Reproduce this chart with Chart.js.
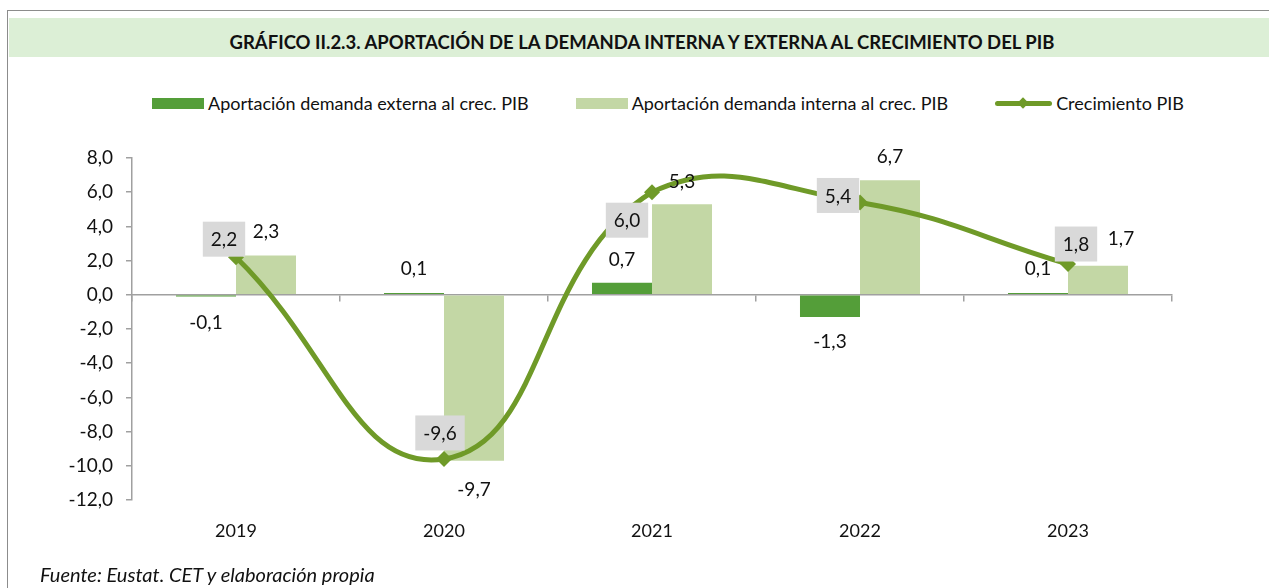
<!DOCTYPE html>
<html>
<head>
<meta charset="utf-8">
<script src="https://cdn.jsdelivr.net/npm/chart.js@4.4.1/dist/chart.umd.min.js"></script>
<style>
    body { margin: 0; background: #fff; font-family: Lato, "Open Sans", sans-serif; color: #111; }
    #page { position: relative; width: 1269px; height: 588px; overflow: hidden; }
    #frame { position: absolute; left: 7px; top: 10px; right: -5px; bottom: -5px;
        border-top: 1.5px solid #8c8c8c; border-left: 1.5px solid #8c8c8c; }
    #title { position: absolute; left: 9px; top: 18px; width: 1260px; height: 39px; background: #dcefd6;
        font-weight: bold; font-size: 18.5px; line-height: 29px; padding-top: 10px; text-align: center;
        padding-left: 6px; box-sizing: border-box; }
    #legend { position: absolute; left: 152px; top: 92px; display: flex; align-items: center; font-size: 18px; }
    .item { display: flex; align-items: center; margin-right: 47px; }
    .swatch { width: 52px; height: 11px; margin-right: 4px; }
    .lineSwatch { position: relative; width: 57px; height: 5px; border-radius: 3px; margin-right: 4px; }
    .lineSwatch span { position: absolute; left: 24px; top: -2px; width: 8px; height: 8px; transform: rotate(45deg); }
    #chart { position: absolute; left: 0; top: 0; }
    #source { position: absolute; left: 40px; top: 562px; font-style: italic; font-size: 20px; }
</style>
</head>
<body>
<div id="page">
    <div id="frame"></div>
    <div id="title">GRÁFICO II.2.3. APORTACIÓN DE LA DEMANDA INTERNA Y EXTERNA AL CRECIMIENTO DEL PIB</div>
    <div id="legend"></div>
    <canvas id="chart" width="1269" height="588"></canvas>
    <div id="source">Fuente: Eustat. CET y elaboración propia</div>
</div>
<script>
// DATA
const years = ["2019", "2020", "2021", "2022", "2023"];
const externa = [-0.1, 0.1, 0.7, -1.3, 0.1];
const interna = [2.3, -9.7, 5.3, 6.7, 1.7];
const pib = [2.2, -9.6, 6.0, 5.4, 1.8];
const yMin = -12;
const yMax = 8;
const yStep = 2;

const names = [
    "Aportación demanda externa al crec. PIB",
    "Aportación demanda interna al crec. PIB",
    "Crecimiento PIB",
];

// STYLE
const darkGreen = "#549e39";
const lightGreen = "#c3d7a5";
const lineGreen = "#6f9a28";
const axisGray = "#a0a0a0";
const textColor = "#111";
const fontFamily = "Lato, 'Open Sans', sans-serif";

// label nudges in pixels [dx, dy], relative to bar end / point
const externaNudge = [[0, 2], [0, 0], [0, 1], [0, 1], [0, 0]];
const internaNudge = [[0, 0], [0, 5], [0, 2], [0, 1], [23, -3]];
const pibNudge = [[-12, -18], [-4, -26], [-25, 28], [-22, -7], [8, -20]];

const fmt = (v) => v.toFixed(1).replace(".", ",");

// legend
const legend = document.getElementById("legend");
legend.insertAdjacentHTML("beforeend", `
    <div class="item"><div class="swatch" style="background:${darkGreen}"></div>${names[0]}</div>
    <div class="item"><div class="swatch" style="background:${lightGreen}"></div>${names[1]}</div>
    <div class="item"><div class="lineSwatch" style="background:${lineGreen}"><span style="background:${lineGreen}"></span></div>${names[2]}</div>
`);

const valueLabels = {
    id: "valueLabels",
    afterDatasetsDraw(chart) {
        const ctx = chart.ctx;
        ctx.save();
        ctx.font = `19px ${fontFamily}`;
        ctx.textAlign = "center";
        ctx.textBaseline = "middle";
        chart.data.datasets.forEach((ds, di) => {
            const meta = chart.getDatasetMeta(di);
            meta.data.forEach((el, i) => {
                const v = ds.data[i];
                const text = fmt(v);
                const [dx, dy] = ds.nudge[i];
                if (ds.type === "line") {
                    const x = el.x + dx;
                    const y = el.y + dy;
                    const w = ctx.measureText(text).width + 16;
                    const h = 35;
                    ctx.fillStyle = "#d9d9d9";
                    ctx.fillRect(x - w / 2, y - h / 2, w, h);
                    ctx.fillStyle = textColor;
                    ctx.fillText(text, x, y + 1);
                } else {
                    const x = el.x + dx;
                    const y = el.y + (v >= 0 ? -24 : 24) + dy;
                    ctx.fillStyle = textColor;
                    ctx.fillText(text, x, y);
                }
            });
        });
        ctx.restore();
    },
};

const ctx = document.getElementById("chart");
const chart = new Chart(ctx, {
    type: "bar",
    data: {
        labels: years,
        datasets: [
            {
                type: "line",
                label: names[2],
                data: pib,
                nudge: pibNudge,
                borderColor: lineGreen,
                backgroundColor: lineGreen,
                borderWidth: 5,
                tension: 0.46,
                pointStyle: "rectRot",
                pointRadius: 8,
                pointBorderWidth: 0,
                order: 0,
            },
            {
                label: names[0],
                data: externa,
                nudge: externaNudge,
                backgroundColor: darkGreen,
                barPercentage: 1,
                categoryPercentage: 0.577,
                order: 1,
            },
            {
                label: names[1],
                data: interna,
                nudge: internaNudge,
                backgroundColor: lightGreen,
                barPercentage: 1,
                categoryPercentage: 0.577,
                order: 1,
            },
        ],
    },
    options: {
        responsive: false,
        animation: false,
        layout: {
            padding: { left: 0, top: 158, right: 97, bottom: 44 },
        },
        plugins: {
            legend: { display: false },
            tooltip: { enabled: false },
        },
        scales: {
            x: {
                offset: true,
                grid: { display: false, drawTicks: false },
                border: { display: false },
                ticks: { padding: 20, color: textColor, font: { family: fontFamily, size: 18 } },
                afterFit: (scale) => { scale.height = 44; },
            },
            x0: {
                type: "category",
                labels: years,
                position: { y: 0 },
                offset: true,
                grid: { offset: true, drawOnChartArea: false, tickLength: 6, color: axisGray, lineWidth: 1.5 },
                border: { color: axisGray, width: 1.5 },
                ticks: { display: false },
            },
            y: {
                min: yMin,
                max: yMax,
                ticks: {
                    stepSize: yStep,
                    padding: 13,
                    color: textColor,
                    font: { family: fontFamily, size: 19 },
                    callback: (v) => fmt(v),
                },
                grid: { drawOnChartArea: false, tickLength: 6, color: axisGray, lineWidth: 1.5 },
                border: { color: axisGray, width: 1.5 },
                afterFit: (scale) => { scale.width = 132; },
            },
        },
    },
    plugins: [valueLabels],
});
</script>
</body>
</html>
